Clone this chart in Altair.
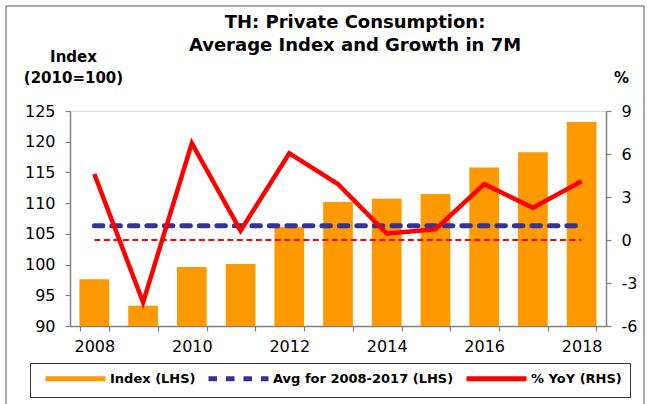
import altair as alt
import pandas as pd

years = list(range(2008, 2019))
index_values = [97.6, 93.3, 99.6, 100.1, 106.1, 110.2, 110.7, 111.5, 115.8, 118.3, 123.2]
yoy_values = [4.6, -4.35, 6.75, 0.65, 6.05, 3.9, 0.45, 0.75, 3.9, 2.25, 4.1]
avg_2008_2017 = 106.3
zero_level = 0
series_names = ["Index (LHS)", "Avg for 2008-2017 (LHS)", "% YoY (RHS)"]
series_colors = ["#FF9900", "#333399", "#FF0000"]
series_dash = [[1, 0], [8.5, 9], [1, 0]]
left_ticks = [90, 95, 100, 105, 110, 115, 120, 125]
right_ticks = [-6, -3, 0, 3, 6, 9]

FONT = "DejaVu Sans"
AX = "#808080"

df_bar = pd.DataFrame({"year": years, "value": index_values})
df_avg = pd.DataFrame({"year": years, "value": [avg_2008_2017] * len(years), "series": series_names[1]})
df_yoy = pd.DataFrame({"year": years, "value": yoy_values, "series": series_names[2]})
df_zero = pd.DataFrame({"year": years, "value": [zero_level] * len(years)})
df_frame = pd.DataFrame({"k": [0]})

x_enc = alt.X(
    "year:O",
    scale=alt.Scale(paddingInner=0.39, paddingOuter=0.195),
    axis=alt.Axis(
        title=None, labelAngle=0, tickBand="extent",
        labelExpr="datum.value % 2 == 0 ? datum.label : ''",
        labelFont=FONT, labelFontSize=16, labelColor="#000", labelPadding=7,
        tickSize=5, tickColor=AX, domainColor=AX, domainWidth=1.5, tickWidth=1.2,
        grid=False,
    ),
)

legend = alt.Legend(
    title=None, orient="none", legendX=-40, legendY=252, direction="horizontal",
    symbolType="M0,0H12", symbolSize=100, symbolStrokeWidth=5,
    labelFont=FONT, labelFontSize=13, labelFontWeight="bold", labelColor="#000",
    labelOffset=57, labelLimit=400, columnPadding=2, padding=8,
    strokeColor="#333", fillColor="white", cornerRadius=0,
)

color_enc = alt.Color("series:N", scale=alt.Scale(domain=series_names, range=series_colors), legend=legend)
dash_enc = alt.StrokeDash("series:N", scale=alt.Scale(domain=series_names, range=series_dash), legend=legend)

y_left = alt.Y(
    "value:Q",
    scale=alt.Scale(domain=[90, 125], nice=False, zero=False),
    axis=alt.Axis(
        orient="left", values=left_ticks, title=["Index", "(2010=100)"],
        titleAngle=0, titleAlign="center", titleBaseline="alphabetic",
        titleX=3, titleY=-50, titleFont=FONT, titleFontSize=15, titleFontWeight="bold",
        titleColor="#000", titleLineHeight=21,
        labelFont=FONT, labelFontSize=16, labelColor="#000", labelPadding=10,
        tickSize=5, tickColor=AX, domainColor=AX, domainWidth=1.5, tickWidth=1.2, grid=False,
    ),
)

y_right = alt.Y(
    "value:Q",
    scale=alt.Scale(domain=[-6, 9], nice=False, zero=False),
    axis=alt.Axis(
        orient="right", values=right_ticks, title="%",
        titleAngle=0, titleAlign="center", titleBaseline="alphabetic",
        titleX=15, titleY=-29, titleFont=FONT, titleFontSize=15, titleFontWeight="bold",
        titleColor="#000",
        labelExpr="datum.value < 0 ? '-' + abs(datum.value) : datum.label",
        labelFont=FONT, labelFontSize=16, labelColor="#000", labelPadding=10,
        tickSize=5, tickColor=AX, domainColor=AX, domainWidth=1.5, tickWidth=1.2, grid=False,
    ),
)

frame = alt.Chart(df_frame).mark_rect(fillOpacity=0, stroke="#555", strokeWidth=1).encode(
    x=alt.value(-64), x2=alt.value(574), y=alt.value(-105), y2=alt.value(300)
)

bars = alt.Chart(df_bar).mark_bar(color="#FF9900", clip=True).encode(x=x_enc, y=y_left)
avg_line = alt.Chart(df_avg).mark_line(strokeWidth=5, strokeCap="round").encode(
    x=x_enc, y=y_left, color=color_enc, strokeDash=dash_enc
)

zero_line = alt.Chart(df_zero).mark_line(color="#FF0000", strokeWidth=2, strokeDash=[6, 3.5]).encode(
    x=x_enc, y=y_right
)
yoy_line = alt.Chart(df_yoy).mark_line(strokeWidth=4.5, strokeJoin="miter").encode(
    x=x_enc, y=y_right, color=color_enc, strokeDash=dash_enc
)

left = alt.layer(frame, bars, avg_line)
right = alt.layer(zero_line, yoy_line)

chart = alt.layer(left, right).resolve_scale(y="independent").properties(
    width=536, height=215,
    title=alt.Title(
        ["TH: Private Consumption:", "Average Index and Growth in 7M"],
        font=FONT, fontSize=18, fontWeight="bold", color="#000",
        anchor="middle", dx=17, dy=53, lineHeight=23,
    ),
    autosize=alt.AutoSizeParams(type="none"),
    padding={"left": 70, "top": 111, "right": 43, "bottom": 78},
).configure_view(stroke=None).configure(background="white")

chart.save("out.html", embed_options={"renderer": "svg", "actions": False})
